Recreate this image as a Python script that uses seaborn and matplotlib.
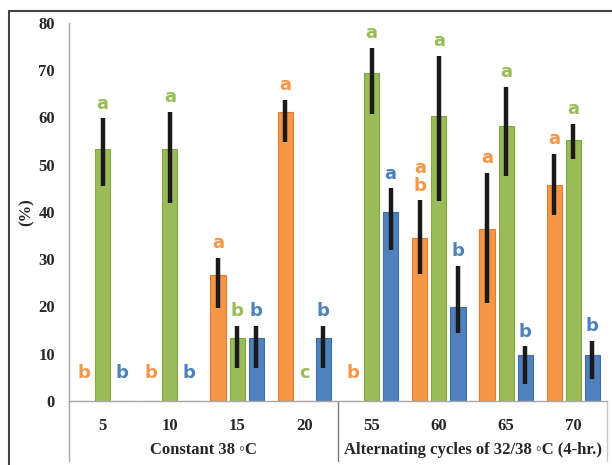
import matplotlib
matplotlib.use("Agg")
import matplotlib.pyplot as plt
import matplotlib.lines as mlines
import matplotlib.transforms as mtransforms
import pandas as pd
import seaborn as sns

sns.set_style("white")
plt.rcParams["font.family"] = ["Liberation Serif", "DejaVu Serif"]

# data
temps = ["5", "10", "15", "20", "55", "60", "65", "70"]
series = ["orange", "green", "blue"]

orange_vals = [0, 0, 26.7, 61.1, 0, 34.6, 36.5, 45.7]
orange_lo = [0, 0, 19.7, 54.9, 0, 26.9, 20.8, 39.4]
orange_hi = [0, 0, 30.3, 63.7, 0, 42.5, 48.3, 52.3]
orange_letters = ["b", "b", "a", "a", "b", "a\nb", "a", "a"]

green_vals = [53.3, 53.3, 13.3, 0, 69.5, 60.4, 58.3, 55.2]
green_lo = [45.4, 42.0, 7.0, 0, 60.7, 42.4, 47.7, 51.2]
green_hi = [59.8, 61.2, 15.9, 0, 74.8, 73.1, 66.5, 58.6]
green_letters = ["a", "a", "b", "c", "a", "a", "a", "a"]

blue_vals = [0, 0, 13.3, 13.3, 40.1, 19.8, 9.7, 9.7]
blue_lo = [0, 0, 7.0, 7.0, 32.0, 14.3, 3.5, 4.7]
blue_hi = [0, 0, 15.9, 15.9, 45.0, 28.6, 11.6, 12.8]
blue_letters = ["b", "b", "b", "b", "a", "b", "b", "b"]

group_names = ["Constant 38 \u25e6C", "Alternating cycles of 32/38 \u25e6C (4-hr.)"]

colors = {"orange": "#F79646", "green": "#9BBB59", "blue": "#4F81BD"}
edges = {"orange": "#E07F30", "green": "#86A545", "blue": "#3F6EA8"}

vals = {"orange": orange_vals, "green": green_vals, "blue": blue_vals}
los = {"orange": orange_lo, "green": green_lo, "blue": blue_lo}
his = {"orange": orange_hi, "green": green_hi, "blue": blue_hi}
letters = {"orange": orange_letters, "green": green_letters, "blue": blue_letters}

rows = []
for s in series:
    for t, v in zip(temps, vals[s]):
        rows.append({"temp": t, "series": s, "value": v})
df = pd.DataFrame(rows)

fig = plt.figure(figsize=(6.12, 4.65), dpi=100)
ax = fig.add_axes([69 / 612, 1 - 401 / 465, 538 / 612, 378 / 465])

sns.barplot(data=df, x="temp", y="value", hue="series", order=temps,
            hue_order=series, palette=colors, width=0.85, gap=0.2,
            saturation=1, errorbar=None, legend=False, ax=ax)

# match patches to (group, series) by position
bars = sorted([p for p in ax.patches], key=lambda p: p.get_x() + p.get_width() / 2)
k = 0
for gi in range(len(temps)):
    for s in series:
        p = bars[k]
        k += 1
        p.set_edgecolor(edges[s])
        p.set_linewidth(0.8)
        xc = p.get_x() + p.get_width() / 2
        v = vals[s][gi]
        lo, hi = los[s][gi], his[s][gi]
        if hi > 0:
            ax.errorbar(xc, v, yerr=[[v - lo], [hi - v]], fmt="none",
                        ecolor="#1a1a1a", elinewidth=3.2, capsize=0, zorder=5)
            ly = hi + 1.2
        else:
            ly = 4.0
        ax.text(xc, ly, letters[s][gi], ha="center", va="bottom",
                color=colors[s], fontsize=13, fontweight="bold",
                family=["DejaVu Sans"], linespacing=0.95)

ax.set_ylim(0, 80)
ax.set_xlim(-0.5, len(temps) - 0.5)
ax.set_yticks(range(0, 81, 10))
ax.tick_params(axis="y", direction="in", length=4, color="#9a9a9a",
               labelsize=12, pad=10)
ax.tick_params(axis="x", length=0, labelsize=12, pad=12)
for lab in ax.get_yticklabels() + ax.get_xticklabels():
    lab.set_fontweight("bold")
ax.set_xlabel("")
ax.set_ylabel("(%)", fontsize=12, fontweight="bold")
ax.yaxis.set_label_coords(-0.063, 0.5)

for side in ["top", "right"]:
    ax.spines[side].set_visible(False)
ax.spines["left"].set_color("#a8a8a8")
ax.spines["bottom"].set_color("#a8a8a8")
ax.spines["left"].set_linewidth(1)
ax.spines["bottom"].set_linewidth(1)

# table lines below the axis
trans = mtransforms.blended_transform_factory(ax.transData, ax.transAxes)
for xv, c in [(-0.5, "#a8a8a8"), (3.5, "#7a7a7a"), (7.5, "#c8c8c8")]:
    ax.add_line(mlines.Line2D([xv, xv], [0, -0.16], transform=trans,
                              color=c, lw=1, clip_on=False))
ax.text(1.5, -0.13, group_names[0], transform=trans, ha="center", va="center",
        fontsize=12, fontweight="bold")
ax.text(5.5, -0.13, group_names[1], transform=trans, ha="center", va="center",
        fontsize=12, fontweight="bold")

# outer frame
fig.add_artist(mlines.Line2D([9 / 612, 9 / 612], [0, 1 - 11 / 465],
                             transform=fig.transFigure, color="#444444", lw=1.5))
fig.add_artist(mlines.Line2D([9 / 612, 1], [1 - 11 / 465, 1 - 11 / 465],
                             transform=fig.transFigure, color="#444444", lw=1.5))

fig.savefig("out.png", dpi=100)
